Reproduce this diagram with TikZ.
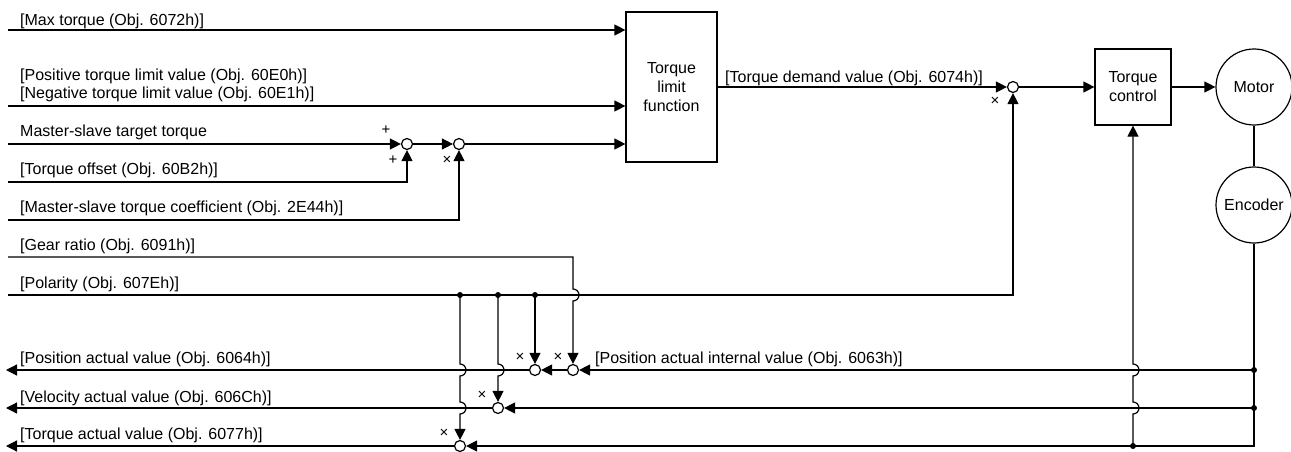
\documentclass[tikz,border=0pt]{standalone}
\usepackage{fontspec}
\setmainfont{Liberation Sans}
\usepackage{tikz}
\usetikzlibrary{arrows.meta}
\usetikzlibrary{calc}

\begin{document}
\begin{tikzpicture}[x=1pt, y=-1pt,
 every node/.style={font=\fontsize{16}{19}\selectfont},
 lbl/.style={anchor=base west, inner sep=0pt},
 block/.style={rectangle, draw, line width=1.2pt, inner sep=0pt, align=center},
 unit/.style={circle, draw, line width=1.2pt, inner sep=0pt, minimum size=76pt},
 junc/.style={circle, draw, fill=white, line width=1.2pt, inner sep=0pt, minimum size=11pt},
 dot/.style={circle, fill, inner sep=0pt, minimum size=6pt},
 sign/.style={inner sep=0pt, font=\fontsize{15}{15}\selectfont},
 arrow/.style={-{Triangle[length=11pt,width=11pt]}, line width=1.2pt},
 wire/.style={line width=1.2pt},
 hopdn/.style={insert path={arc[start angle=90, end angle=-90, radius=6pt]}},
 hopup/.style={insert path={arc[start angle=-90, end angle=90, radius=6pt]}}]

	\useasboundingbox (0,0) rectangle (1291,452);

	% blocks
	\node[block, minimum width=91pt, minimum height=150pt] (tlf) at (671.5,87) {Torque\\limit\\function};
	\node[block, minimum width=76pt, minimum height=76pt] (tc) at (1133,87) {Torque\\control};
	\node[unit] (motor) at (1254,87) {Motor};
	\node[unit] (enc) at (1254,205) {Encoder};

	% summing points
	\node[junc] (sadd) at (407,144) {};
	\node[junc] (smul) at (459,144) {};
	\node[junc] (sdem) at (1013,87) {};
	\node[junc] (ppol) at (535,370) {};
	\node[junc] (pgear) at (573,370) {};
	\node[junc] (vpol) at (498,408) {};
	\node[junc] (tpol) at (460,446) {};

	% inputs and outputs
	\coordinate (inmax) at (8,30);
	\coordinate (inlim) at (8,106);
	\coordinate (inms) at (8,144);
	\coordinate (inoff) at (8,182);
	\coordinate (incoef) at (8,220);
	\coordinate (ingear) at (8,257);
	\coordinate (inpol) at (8,295);
	\coordinate (outpos) at (6,370);
	\coordinate (outvel) at (6,408);
	\coordinate (outtq) at (6,446);

	\node[lbl] (maxlbl) at (20,25.5) {[Max torque (Obj. 6072h)]};
	\node[lbl] (poslbl) at (20,80.5) {[Positive torque limit value (Obj. 60E0h)]};
	\node[lbl] (neglbl) at (20,98.5) {[Negative torque limit value (Obj. 60E1h)]};
	\node[lbl] (mslbl) at (20,136.5) {Master-slave target torque};
	\node[lbl] (offlbl) at (20,174.5) {[Torque offset (Obj. 60B2h)]};
	\node[lbl] (coeflbl) at (20,212.5) {[Master-slave torque coefficient (Obj. 2E44h)]};
	\node[lbl] (gearlbl) at (20,250.5) {[Gear ratio (Obj. 6091h)]};
	\node[lbl] (pollbl) at (20,288.5) {[Polarity (Obj. 607Eh)]};
	\node[lbl] (paclbl) at (20,363.5) {[Position actual value (Obj. 6064h)]};
	\node[lbl] (vaclbl) at (20,402.5) {[Velocity actual value (Obj. 606Ch)]};
	\node[lbl] (taclbl) at (20,439.5) {[Torque actual value (Obj. 6077h)]};
	\node[lbl] (pinlbl) at (595,363.5) {[Position actual internal value (Obj. 6063h)]};
	\node[lbl] (tdlbl) at (725,82.5) {[Torque demand value (Obj. 6074h)]};

	\node[sign] (pa1) at (386,130) {+};
	\node[sign] (pa2) at (393,160) {+};
	\node[sign] (pm1) at (447,160) {×};
	\node[sign] (pm2) at (995,101) {×};
	\node[sign] (pm3) at (520,357) {×};
	\node[sign] (pm4) at (558,357) {×};
	\node[sign] (pm5) at (482,395) {×};
	\node[sign] (pm6) at (444,433) {×};

	% forward path
	\draw (inmax) edge [arrow] (inmax -| tlf.west);
	\draw (inlim) edge [arrow] (inlim -| tlf.west);
	\draw (inms) edge [arrow] (sadd);
	\draw (sadd) edge [arrow] (smul);
	\draw (smul) edge [arrow] (smul -| tlf.west);
	\draw[arrow] (inoff) -| (sadd);
	\draw[arrow] (incoef) -| (smul);
	\draw (tlf) edge [arrow] (sdem);
	\draw (sdem) edge [arrow] (tc);
	\draw (tc) edge [arrow] (motor);
	\draw[wire] (motor) -- (enc);

	% polarity and gear ratio
	\draw[arrow] (inpol) -| (sdem);
	\draw[arrow] (ingear) -- (ingear -| pgear) -- ++(0,32) [hopdn] -- (pgear);
	\node[dot] (dp1) at (460,295) {};
	\node[dot] (dp2) at (498,295) {};
	\node[dot] (dp3) at (535,295) {};
	\draw[arrow] (dp3.center) -- (ppol);
	\draw[arrow] (dp2.center) -- ++(0,69) [hopdn] -- (vpol);
	\draw[arrow] (dp1.center) -- ++(0,69) [hopdn] -- ++(0,26) [hopdn] -- (tpol);

	% feedback
	\node[dot] (dpos) at (1254,370) {};
	\node[dot] (dvel) at (1254,408) {};
	\node[dot] (dtq) at (1133,446) {};
	\draw (dpos.center) edge [arrow] (pgear);
	\draw (pgear) edge [arrow] (ppol);
	\draw (ppol) edge [arrow] (outpos);
	\draw (dvel.center) edge [arrow] (vpol);
	\draw (vpol) edge [arrow] (outvel);
	\draw[arrow] (enc) |- (tpol);
	\draw (tpol) edge [arrow] (outtq);
	\draw[arrow] (dtq.center) -- ++(0,-32) [hopup] -- ++(0,-26) [hopup] -- (tc);
\end{tikzpicture}
\end{document}
